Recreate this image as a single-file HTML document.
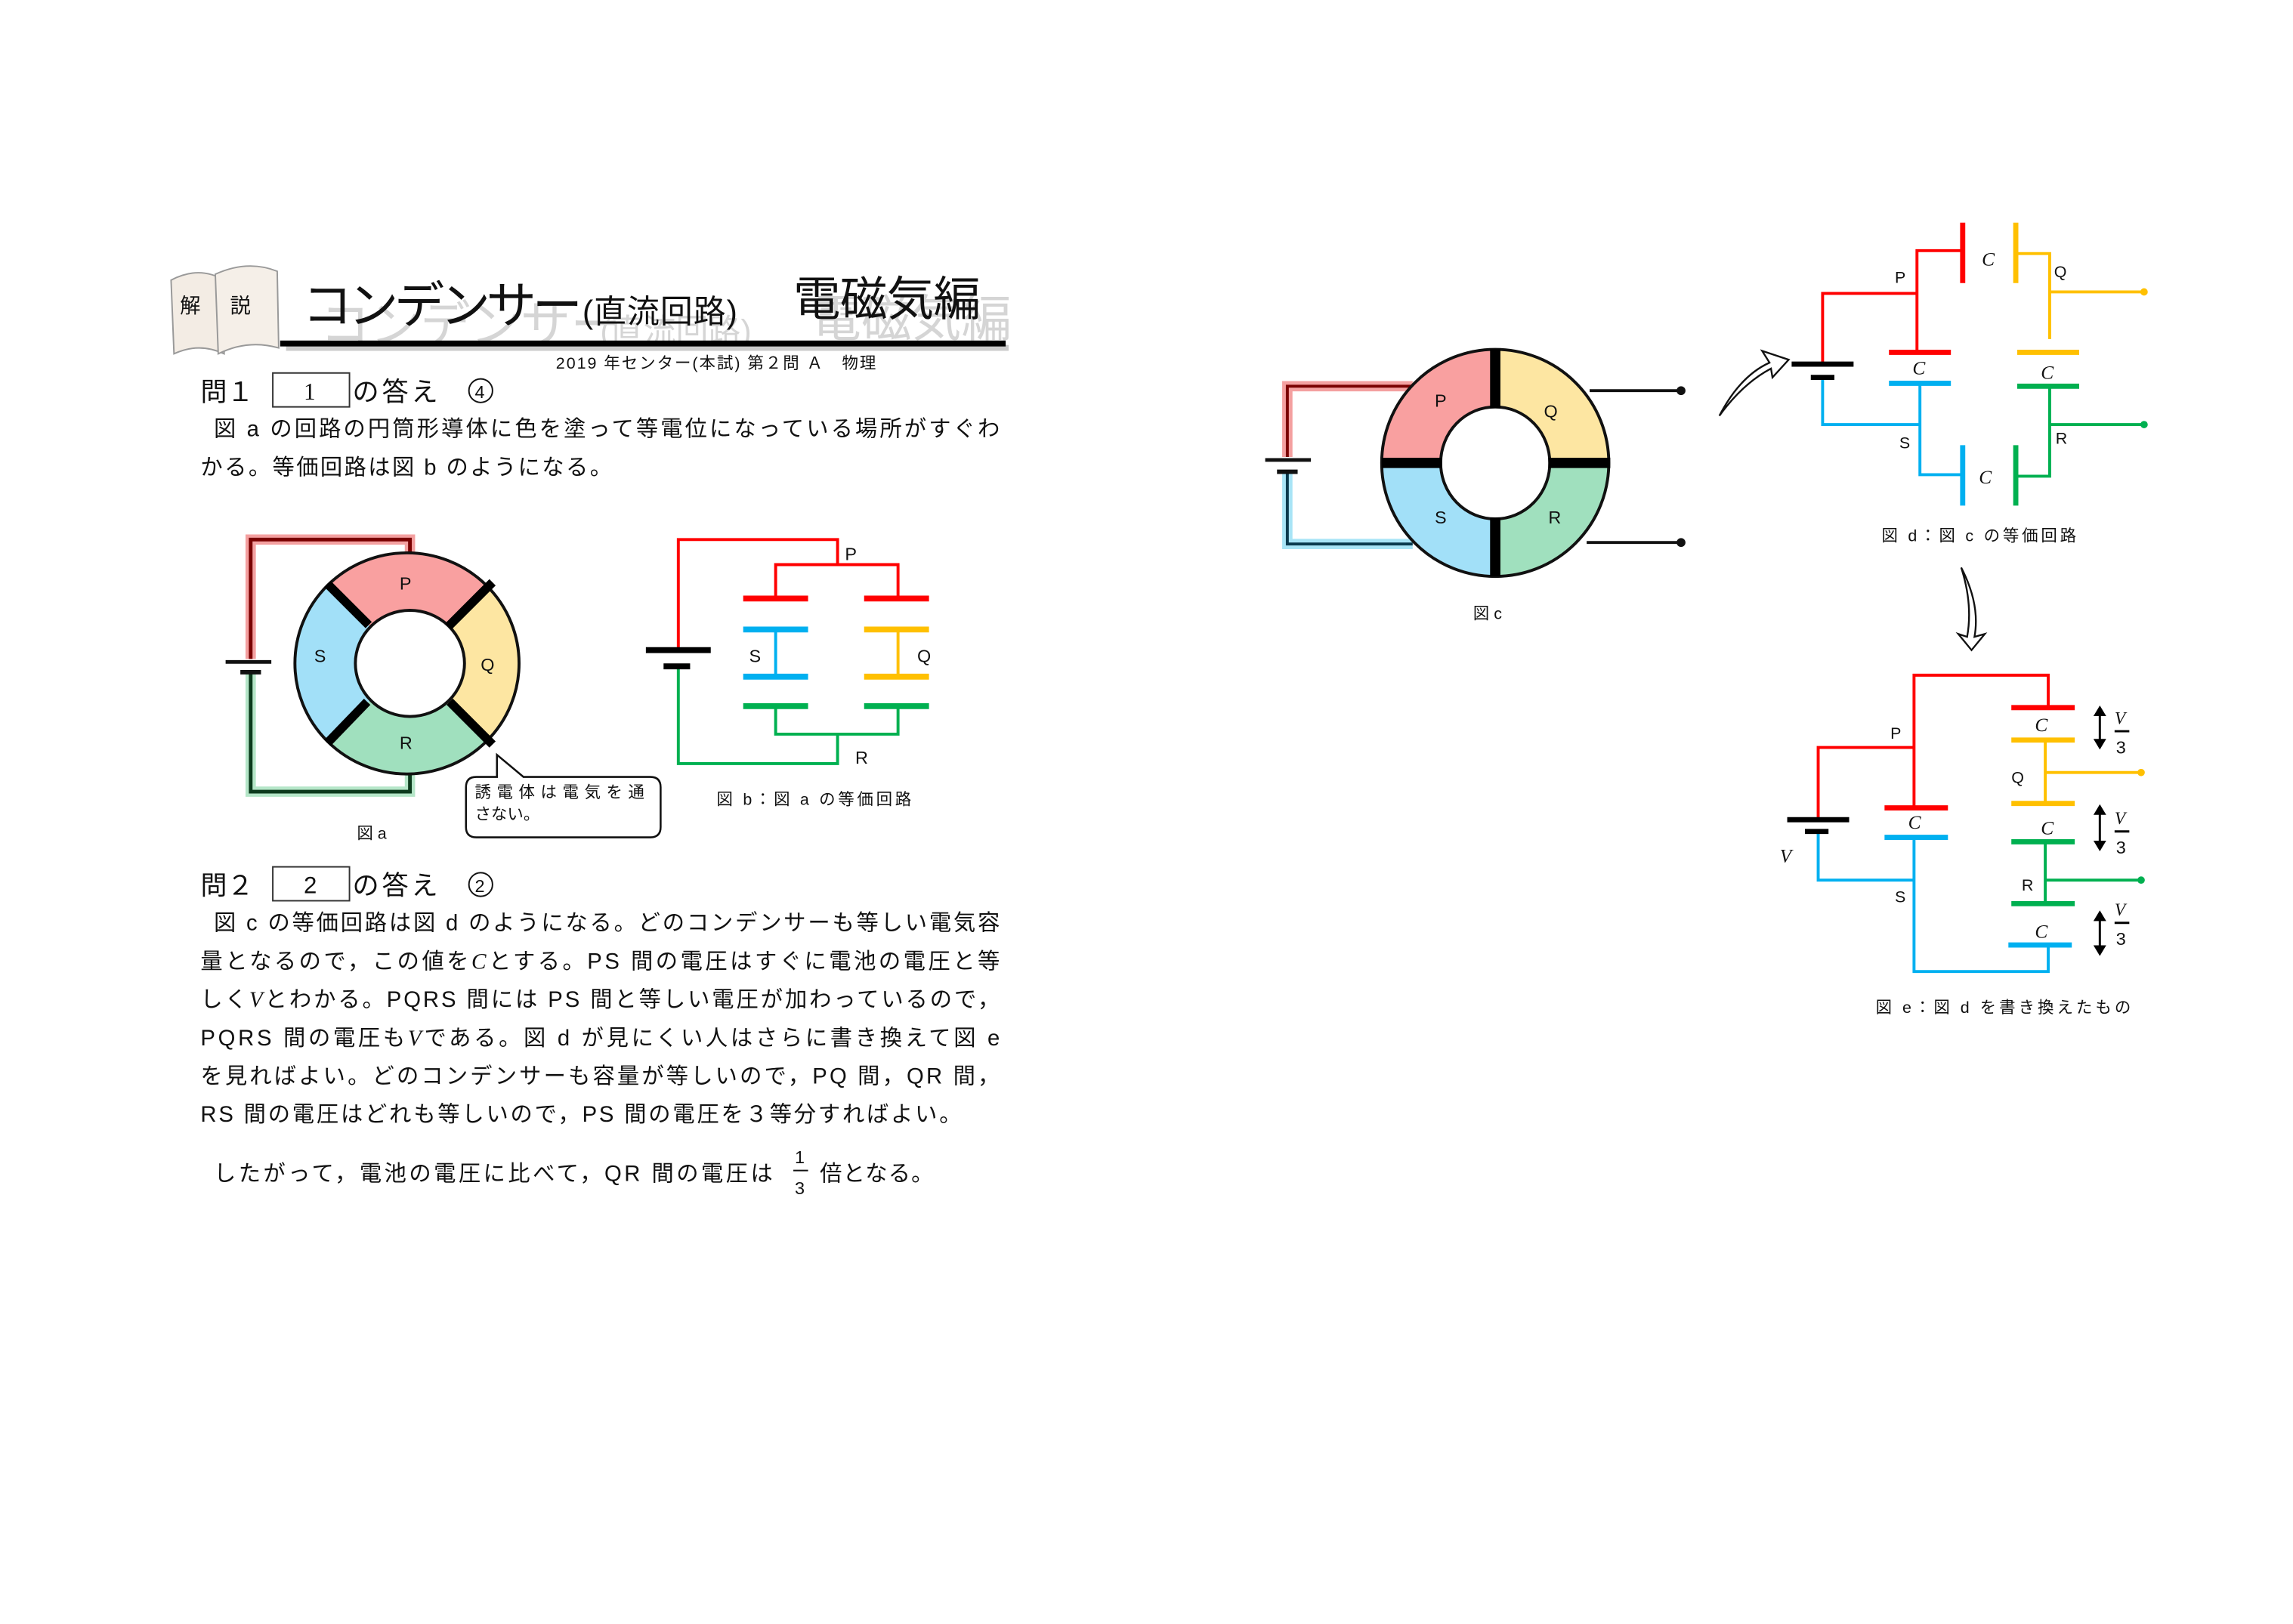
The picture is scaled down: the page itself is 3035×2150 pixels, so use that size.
<!DOCTYPE html>
<html><head><meta charset="utf-8"><style>
html,body{margin:0;padding:0;background:#fff}
svg{display:block}
text{font-family:"Liberation Sans","Noto Sans CJK JP",sans-serif;fill:#111}
.m{font-family:"Liberation Serif","Noto Serif CJK SC",serif;font-style:italic}
</style></head><body>
<svg width="3035" height="2150" viewBox="0 0 1555 1101.6" preserveAspectRatio="none" xmlns="http://www.w3.org/2000/svg">
<defs>
<clipPath id="ca"><ellipse cx="276" cy="450" rx="76" ry="75"/></clipPath>
<clipPath id="cc"><ellipse cx="1014" cy="314" rx="77" ry="77"/></clipPath>
</defs>
<rect width="1555" height="1101.6" fill="#fff"/>

<!-- header -->
<path d="M118 240 L116 190 Q135 180 152 190 L152 240 Q135 232 118 240Z" fill="#f3ece4" stroke="#999" stroke-width="1"/>
<path d="M148 240 L146 186 Q168 176 188 184 L189 236 Q168 230 148 240Z" fill="#f5efe8" stroke="#999" stroke-width="1"/>
<text x="122" y="212" font-size="14">解</text>
<text x="156" y="212" font-size="14">説</text>
<g fill="#bbb" opacity="0.7"><text x="217" y="232" font-size="34" style="fill:#c4c4c4">コンデンサー</text><text x="407" y="232" font-size="22" style="fill:#c4c4c4">(直流回路)</text><text x="550" y="228" font-size="34" style="fill:#c4c4c4">電磁気編</text></g>
<text x="205" y="219" font-size="34" textLength="190">コンデンサー</text>
<text x="395" y="219" font-size="22" textLength="105">(直流回路)</text>
<text x="538" y="214" font-size="32" textLength="127">電磁気編</text>
<rect x="194" y="234" width="490" height="4" fill="#ccc"/>
<rect x="190" y="231" width="492" height="4" fill="#000"/>
<text x="377" y="250" font-size="11" textLength="217">2019 年センター(本試) 第２問 Ａ　物理</text>

<!-- Q1 -->
<text x="136" y="272" font-size="18">問１</text>
<rect x="185" y="253" width="52" height="23" fill="none" stroke="#333" stroke-width="1"/>
<text x="206" y="271" font-size="16" class="m" style="font-style:normal">1</text>
<text x="239" y="272" font-size="18" textLength="58">の答え</text>
<circle cx="326" cy="265" r="8" fill="none" stroke="#111" stroke-width="1"/>
<text x="322" y="270" font-size="12">4</text>
<text x="145" y="296" font-size="15" textLength="533">図 a の回路の円筒形導体に色を塗って等電位になっている場所がすぐわ</text>
<text x="136" y="322" font-size="15" textLength="279">かる。等価回路は図 b のようになる。</text>

<!-- fig a -->
<polyline points="170,447 170,366 278,366 278,378" fill="none" stroke="#f4a0a0" stroke-width="7"/>
<polyline points="170,447 170,366 278,366 278,378" fill="none" stroke="#7a0000" stroke-width="2.5"/>
<polyline points="170,456 170,537 278,537 278,524" fill="none" stroke="#b5e6c8" stroke-width="7"/>
<polyline points="170,456 170,537 278,537 278,524" fill="none" stroke="#0c3a1c" stroke-width="2.5"/>
<line x1="153" y1="449" x2="184" y2="449" stroke="#111" stroke-width="2.5"/>
<line x1="163" y1="456" x2="177" y2="456" stroke="#111" stroke-width="3"/>
<g clip-path="url(#ca)">
<polygon points="276,450 176,350 376,350" fill="#f9a0a0"/>
<polygon points="276,450 376,350 376,550" fill="#fde6a2"/>
<polygon points="276,450 376,550 176,550" fill="#a0e0be"/>
<polygon points="276,450 176,550 176,350" fill="#a2e0f8"/>
</g>
<ellipse cx="276" cy="450" rx="76" ry="75" fill="none" stroke="#111" stroke-width="2"/>
<ellipse cx="278" cy="450" rx="37" ry="36" fill="#fff" stroke="#111" stroke-width="2"/>
<g stroke="#000" stroke-width="6">
<line x1="222" y1="396" x2="250" y2="424"/><line x1="334" y1="395" x2="304" y2="425"/>
<line x1="305" y1="476" x2="334" y2="505"/><line x1="249" y1="476" x2="222" y2="504"/>
</g>
<text x="271" y="400" font-size="12">P</text><text x="326" y="455" font-size="12">Q</text>
<text x="271" y="508" font-size="12">R</text><text x="213" y="449" font-size="12">S</text>
<path d="M323 527 H337 V512 L355 527 H441 Q448 527 448 534 V561 Q448 568 441 568 H323 Q316 568 316 561 V534 Q316 527 323 527Z" fill="#fff" stroke="#111" stroke-width="1.3"/>
<text x="322" y="541" font-size="11" textLength="115">誘電体は電気を通</text>
<text x="322" y="556" font-size="11">さない。</text>
<text x="242" y="569" font-size="11">図 a</text>

<!-- fig b -->
<g fill="none" stroke-width="2">
<polyline points="460,441 460,366 568,366 568,383" stroke="#f00"/>
<polyline points="526,404 526,383 609,383 609,404" stroke="#f00"/>
<line x1="526" y1="427" x2="526" y2="459" stroke="#00b0f0"/>
<line x1="609" y1="427" x2="609" y2="459" stroke="#ffc000"/>
<polyline points="526,480 526,498 609,498 609,480" stroke="#00b050"/>
<polyline points="460,452 460,518 568,518 568,498" stroke="#00b050"/>
</g>
<g stroke-width="4">
<line x1="504" y1="406" x2="548" y2="406" stroke="#f00"/><line x1="586" y1="406" x2="630" y2="406" stroke="#f00"/>
<line x1="504" y1="427" x2="548" y2="427" stroke="#00b0f0"/><line x1="586" y1="427" x2="630" y2="427" stroke="#ffc000"/>
<line x1="504" y1="459" x2="548" y2="459" stroke="#00b0f0"/><line x1="586" y1="459" x2="630" y2="459" stroke="#ffc000"/>
<line x1="504" y1="479" x2="548" y2="479" stroke="#00b050"/><line x1="586" y1="479" x2="630" y2="479" stroke="#00b050"/>
</g>
<line x1="438" y1="441" x2="482" y2="441" stroke="#000" stroke-width="4"/>
<line x1="450" y1="452" x2="468" y2="452" stroke="#000" stroke-width="4"/>
<text x="573" y="380" font-size="12">P</text><text x="508" y="449" font-size="12">S</text>
<text x="622" y="449" font-size="12">Q</text><text x="580" y="518" font-size="12">R</text>
<text x="486" y="546" font-size="11" textLength="132">図 b：図 a の等価回路</text>

<!-- Q2 -->
<text x="136" y="607" font-size="18">問２</text>
<rect x="185" y="588" width="52" height="23" fill="none" stroke="#333" stroke-width="1"/>
<text x="206" y="606" font-size="16">2</text>
<text x="239" y="607" font-size="18" textLength="58">の答え</text>
<circle cx="326" cy="600" r="8" fill="none" stroke="#111" stroke-width="1"/>
<text x="322" y="605" font-size="12">2</text>
<text x="145" y="631" font-size="15" textLength="533">図 c の等価回路は図 d のようになる。どのコンデンサーも等しい電気容</text>
<text x="136" y="657" font-size="15" textLength="542">量となるので，この値を<tspan class="m">C</tspan>とする。PS 間の電圧はすぐに電池の電圧と等</text>
<text x="136" y="683" font-size="15" textLength="542">しく<tspan class="m">V</tspan>とわかる。PQRS 間には PS 間と等しい電圧が加わっているので，</text>
<text x="136" y="709" font-size="15" textLength="542">PQRS 間の電圧も<tspan class="m">V</tspan>である。図 d が見にくい人はさらに書き換えて図 e</text>
<text x="136" y="735" font-size="15" textLength="542">を見ればよい。どのコンデンサーも容量が等しいので，PQ 間，QR 間，</text>
<text x="136" y="761" font-size="15" textLength="516">RS 間の電圧はどれも等しいので，PS 間の電圧を３等分すればよい。</text>
<text x="145" y="801" font-size="15" textLength="379">したがって，電池の電圧に比べて，QR 間の電圧は</text>
<text x="539" y="789" font-size="12">1</text><line x1="538" y1="794" x2="548" y2="794" stroke="#111" stroke-width="1"/>
<text x="539" y="810" font-size="12">3</text>
<text x="556" y="801" font-size="15" textLength="77">倍となる。</text>

<!-- fig c -->
<polyline points="873,310 873,262 958,262" fill="none" stroke="#f4a0a0" stroke-width="7"/>
<polyline points="873,310 873,262 958,262" fill="none" stroke="#7a0000" stroke-width="2"/>
<polyline points="873,320 873,369 958,369" fill="none" stroke="#a8e4f6" stroke-width="7"/>
<polyline points="873,320 873,369 958,369" fill="none" stroke="#0a3a4e" stroke-width="2"/>
<line x1="858" y1="312" x2="889" y2="312" stroke="#111" stroke-width="2.5"/>
<line x1="866" y1="320" x2="880" y2="320" stroke="#111" stroke-width="3"/>
<g clip-path="url(#cc)">
<rect x="930" y="230" width="84" height="84" fill="#f9a0a0"/>
<rect x="1014" y="230" width="84" height="84" fill="#fde6a2"/>
<rect x="930" y="314" width="84" height="84" fill="#a2e0f8"/>
<rect x="1014" y="314" width="84" height="84" fill="#a0e0be"/>
</g>
<ellipse cx="1014" cy="314" rx="77" ry="77" fill="none" stroke="#111" stroke-width="2"/>
<ellipse cx="1014" cy="314" rx="37" ry="38" fill="#fff" stroke="#111" stroke-width="2"/>
<g stroke="#000" stroke-width="7">
<line x1="1014" y1="237" x2="1014" y2="277"/><line x1="1014" y1="351" x2="1014" y2="391"/>
<line x1="937" y1="314" x2="978" y2="314"/><line x1="1050" y1="314" x2="1092" y2="314"/>
</g>
<text x="973" y="276" font-size="12">P</text><text x="1047" y="283" font-size="12">Q</text>
<text x="973" y="355" font-size="12">S</text><text x="1050" y="355" font-size="12">R</text>
<line x1="1078" y1="265" x2="1140" y2="265" stroke="#111" stroke-width="2"/><circle cx="1140" cy="265" r="3" fill="#111"/>
<line x1="1076" y1="368" x2="1140" y2="368" stroke="#111" stroke-width="2"/><circle cx="1140" cy="368" r="3" fill="#111"/>
<text x="999" y="420" font-size="11">図 c</text>

<!-- arrows -->
<path d="M1166 282 Q1180 255 1200 246 L1195 238 L1213 244 L1202 256 L1201 250 Q1182 260 1166 282Z" fill="#fff" stroke="#111" stroke-width="1.2"/>
<path d="M1330 385 Q1343 410 1339 432 L1346 430 L1337 441 L1328 430 L1334 432 Q1338 410 1330 385Z" fill="#fff" stroke="#111" stroke-width="1.2"/>

<!-- fig d -->
<g fill="none" stroke-width="2">
<polyline points="1236,247 1236,199 1300,199" stroke="#f00"/>
<polyline points="1300,238 1300,170 1331,170" stroke="#f00"/>
<polyline points="1367,172 1390,172 1390,230" stroke="#ffc000"/>
<line x1="1390" y1="198" x2="1454" y2="198" stroke="#ffc000"/>
<polyline points="1236,257 1236,288 1302,288" stroke="#00b0f0"/>
<polyline points="1302,261 1302,322 1331,322" stroke="#00b0f0"/>
<polyline points="1367,323 1390,323 1390,263" stroke="#00b050"/>
<line x1="1390" y1="288" x2="1454" y2="288" stroke="#00b050"/>
</g>
<circle cx="1454" cy="198" r="2.5" fill="#ffc000"/><circle cx="1454" cy="288" r="2.5" fill="#00b050"/>
<g stroke-width="3.5">
<line x1="1331" y1="151" x2="1331" y2="192" stroke="#f00"/><line x1="1367" y1="151" x2="1367" y2="192" stroke="#ffc000"/>
<line x1="1281" y1="239" x2="1323" y2="239" stroke="#f00"/><line x1="1281" y1="260" x2="1323" y2="260" stroke="#00b0f0"/>
<line x1="1368" y1="239" x2="1410" y2="239" stroke="#ffc000"/><line x1="1368" y1="262" x2="1410" y2="262" stroke="#00b050"/>
<line x1="1331" y1="302" x2="1331" y2="343" stroke="#00b0f0"/><line x1="1367" y1="302" x2="1367" y2="343" stroke="#00b050"/>
<line x1="1215" y1="247" x2="1257" y2="247" stroke="#000"/><line x1="1228" y1="256" x2="1244" y2="256" stroke="#000"/>
</g>
<text x="1344" y="180" font-size="13" class="m">C</text><text x="1297" y="254" font-size="13" class="m">C</text>
<text x="1384" y="257" font-size="13" class="m">C</text><text x="1342" y="328" font-size="13" class="m">C</text>
<text x="1285" y="192" font-size="11">P</text><text x="1393" y="188" font-size="11">Q</text>
<text x="1288" y="304" font-size="11">S</text><text x="1394" y="301" font-size="11">R</text>
<text x="1276" y="367" font-size="11" textLength="132">図 d：図 c の等価回路</text>

<!-- fig e -->
<g fill="none" stroke-width="2">
<polyline points="1298,548 1298,458 1389,458 1389,480" stroke="#f00"/>
<polyline points="1233,556 1233,507 1298,507" stroke="#f00"/>
<polyline points="1298,568 1298,659 1389,659 1389,641" stroke="#00b0f0"/>
<polyline points="1233,564 1233,597 1298,597" stroke="#00b0f0"/>
<line x1="1387" y1="502" x2="1387" y2="545" stroke="#ffc000"/>
<line x1="1387" y1="524" x2="1452" y2="524" stroke="#ffc000"/>
<line x1="1387" y1="571" x2="1387" y2="613" stroke="#00b050"/>
<line x1="1387" y1="597" x2="1452" y2="597" stroke="#00b050"/>
</g>
<circle cx="1452" cy="524" r="2.5" fill="#ffc000"/><circle cx="1452" cy="597" r="2.5" fill="#00b050"/>
<g stroke-width="3.5">
<line x1="1364" y1="480" x2="1407" y2="480" stroke="#f00"/><line x1="1364" y1="502" x2="1407" y2="502" stroke="#ffc000"/>
<line x1="1364" y1="545" x2="1407" y2="545" stroke="#ffc000"/><line x1="1364" y1="571" x2="1407" y2="571" stroke="#00b050"/>
<line x1="1364" y1="613" x2="1407" y2="613" stroke="#00b050"/><line x1="1362" y1="641" x2="1405" y2="641" stroke="#00b0f0"/>
<line x1="1278" y1="548" x2="1321" y2="548" stroke="#f00"/><line x1="1278" y1="568" x2="1321" y2="568" stroke="#00b0f0"/>
<line x1="1212" y1="556" x2="1254" y2="556" stroke="#000"/><line x1="1224" y1="564" x2="1240" y2="564" stroke="#000"/>
</g>
<text x="1380" y="496" font-size="13" class="m">C</text><text x="1384" y="566" font-size="13" class="m">C</text>
<text x="1380" y="636" font-size="13" class="m">C</text><text x="1294" y="562" font-size="13" class="m">C</text>
<text x="1207" y="585" font-size="13" class="m">V</text>
<text x="1282" y="501" font-size="11">P</text><text x="1364" y="531" font-size="11">Q</text>
<text x="1285" y="612" font-size="11">S</text><text x="1371" y="604" font-size="11">R</text>
<g stroke="#000" stroke-width="1.5" fill="#000">
<line x1="1424" y1="484" x2="1424" y2="503"/><path d="M1421 485 L1424 480 L1427 485Z M1421 502 L1424 507 L1427 502Z"/>
<line x1="1424" y1="551" x2="1424" y2="572"/><path d="M1421 552 L1424 547 L1427 552Z M1421 571 L1424 576 L1427 571Z"/>
<line x1="1424" y1="623" x2="1424" y2="643"/><path d="M1421 624 L1424 619 L1427 624Z M1421 642 L1424 647 L1427 642Z"/>
<line x1="1434" y1="496" x2="1444" y2="496"/><line x1="1434" y1="564" x2="1444" y2="564"/><line x1="1434" y1="626" x2="1444" y2="626"/>
</g>
<text x="1434" y="491" font-size="12" class="m">V</text><text x="1435" y="511" font-size="12">3</text>
<text x="1434" y="559" font-size="12" class="m">V</text><text x="1435" y="579" font-size="12">3</text>
<text x="1434" y="621" font-size="12" class="m">V</text><text x="1435" y="641" font-size="12">3</text>
<text x="1272" y="687" font-size="11" textLength="173">図 e：図 d を書き換えたもの</text>
</svg>
</body></html>
